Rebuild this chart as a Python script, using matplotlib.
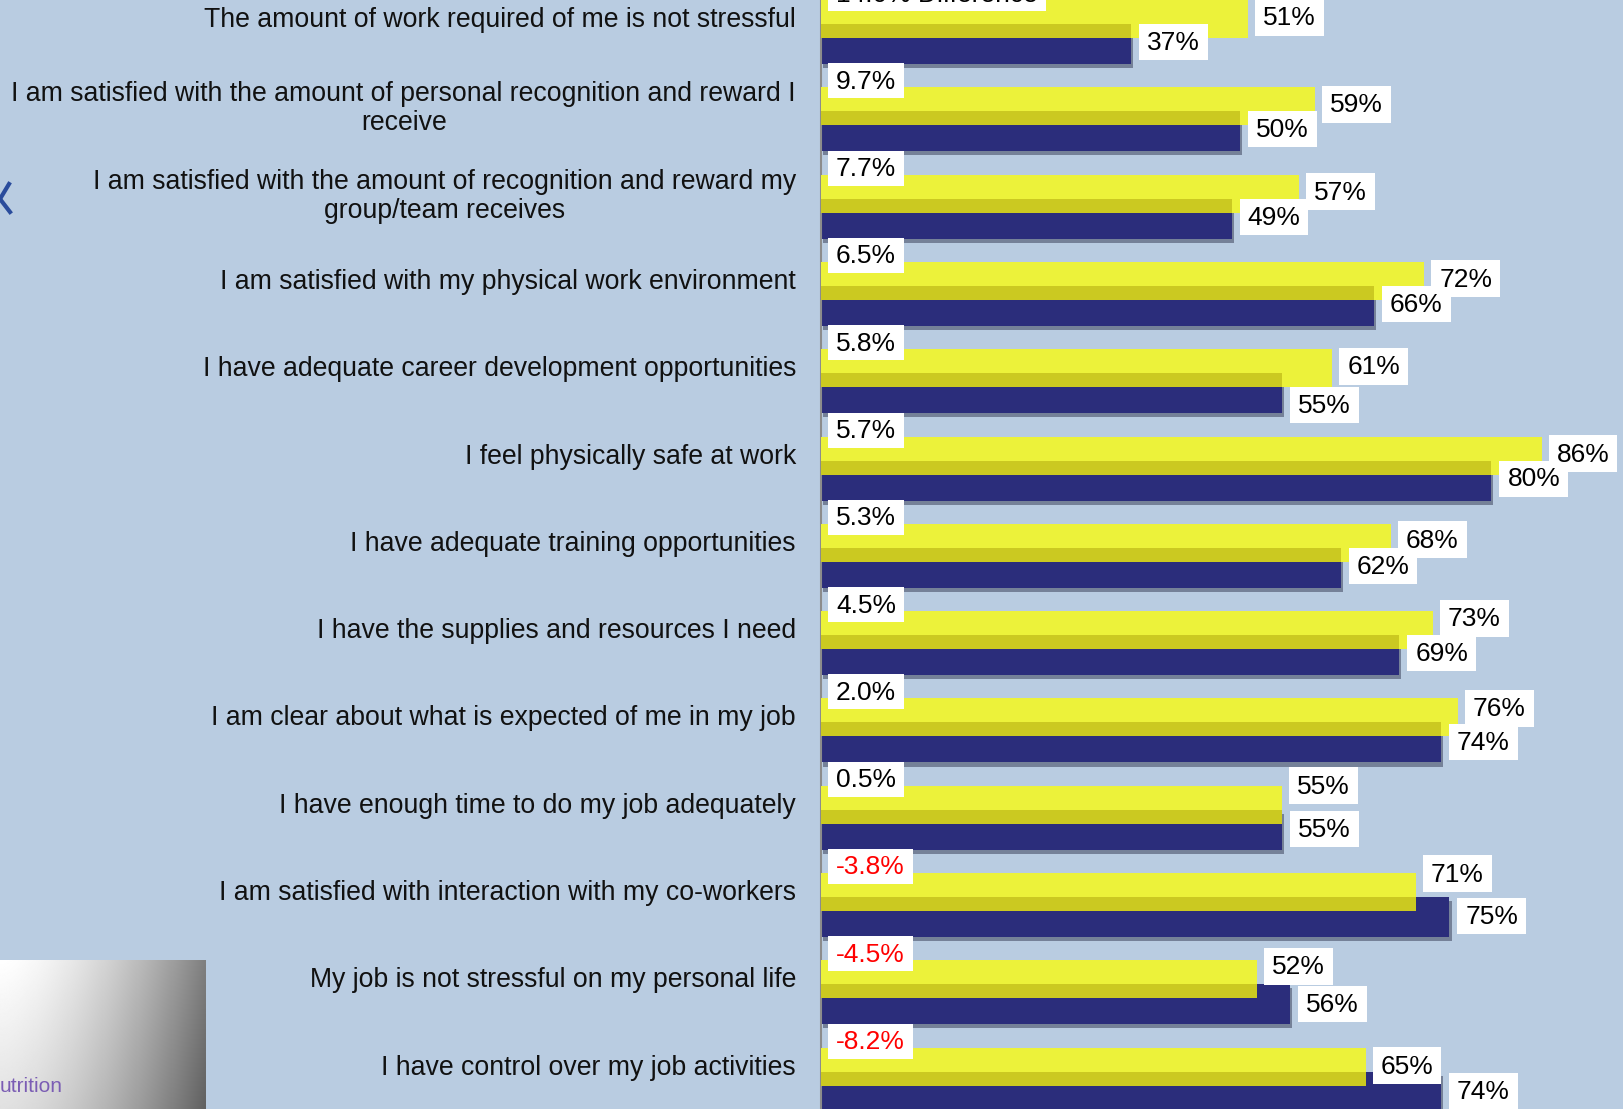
import numpy as np
import matplotlib
matplotlib.use('Agg')
import matplotlib.pyplot as plt
import matplotlib.patheffects as pe
from matplotlib.patches import Rectangle
from matplotlib.transforms import IdentityTransform

plt.rcParams['font.family'] = ['Liberation Sans', 'DejaVu Sans']

categories = [
    'The amount of work required of me is not stressful',
    'I am satisfied with the amount of personal recognition and reward I\nreceive',
    'I am satisfied with the amount of recognition and reward my\ngroup/team receives',
    'I am satisfied with my physical work environment',
    'I have adequate career development opportunities',
    'I feel physically safe at work',
    'I have adequate training opportunities',
    'I have the supplies and resources I need',
    'I am clear about what is expected of me in my job',
    'I have enough time to do my job adequately',
    'I am satisfied with interaction with my co-workers',
    'My job is not stressful on my personal life',
    'I have control over my job activities',
]
yellow_pct = [51, 59, 57, 72, 61, 86, 68, 73, 76, 55, 71, 52, 65]
navy_pct = [37, 50, 49, 66, 55, 80, 62, 69, 74, 55, 75, 56, 74]
diff_pct = [14.0, 9.7, 7.7, 6.5, 5.8, 5.7, 5.3, 4.5, 2.0, 0.5, -3.8, -4.5, -8.2]

# label nudges (pixels, downward) where value boxes would collide
yellow_nudge = [0, 0, 0, 0, 0, 0, -1, -10, -7, -17, -16, -11, 1]
navy_nudge = [0, 0, 0, 0, 14, 0, 0, 0, 2, 1, 1, 2, 1]

BG = '#b9cce1'
YELLOW = '#ecf23a'
OLIVE = '#cbc921'
NAVY = '#2b2d7b'

W, H = 1624, 1109
x0 = 821          # pixel where 0% sits
px_pct = 8.38     # pixels per percent
grp = 87.3        # pixels per question group

fig = plt.figure(figsize=(W / 100, H / 100), dpi=100, facecolor=BG)
ax = fig.add_axes([x0 / W, 0, 1 - x0 / W, 1])
ax.set_facecolor('none')
ax.set_xlim(0, (W - x0) / px_pct)
ax.set_ylim(H / grp, 0)

n = len(categories)
idx = np.arange(n)
lo = np.minimum(yellow_pct, navy_pct)

ax.barh(idx + 44 / grp, navy_pct, height=40 / grp, color=NAVY, zorder=2,
        path_effects=[pe.SimplePatchShadow(offset=(1.5, -3), shadow_rgbFace='#333850', alpha=0.5),
                      pe.Normal()])
ax.barh(idx + 19 / grp, yellow_pct, height=38 / grp, color=YELLOW, zorder=3)
ax.barh(idx + 31 / grp, lo, height=14 / grp, color=OLIVE, zorder=4)

for s in ['top', 'right', 'bottom']:
    ax.spines[s].set_visible(False)
ax.spines['left'].set_color('#8c8c8c')
ax.spines['left'].set_linewidth(1.5)
ax.set_xticks([])
ax.set_yticks(idx + 17 / grp)
ax.set_yticklabels(categories, fontsize=19.2, color='#111111', linespacing=1.15)
ax.tick_params(axis='y', length=0, pad=18)
for t in ax.get_yticklabels():
    t.set_multialignment('center')

boxed = []
for i in range(n):
    label = f'{diff_pct[i]:.1f}%'
    if i == 0:
        label += ' Difference'
    t = ax.annotate(label, xy=(0, i), xytext=(15, 5.5), textcoords='offset pixels',
                    ha='left', va='center', fontsize=19,
                    color='#ff0000' if diff_pct[i] < 0 else 'black', zorder=7)
    boxed.append((t, 35))
    t = ax.annotate(f'{yellow_pct[i]}%', xy=(yellow_pct[i], i + 18 / grp),
                    xytext=(15, -yellow_nudge[i]), textcoords='offset pixels',
                    ha='left', va='center', fontsize=19, color='black', zorder=7)
    boxed.append((t, 37))
    t = ax.annotate(f'{navy_pct[i]}%', xy=(navy_pct[i], i + 43 / grp),
                    xytext=(16, -navy_nudge[i]), textcoords='offset pixels',
                    ha='left', va='center', fontsize=19, color='black', zorder=7)
    boxed.append((t, 36))

# white boxes behind the value labels
fig.canvas.draw()
r = fig.canvas.get_renderer()
for t, bh in boxed:
    bb = t.get_window_extent(r)
    cy = (bb.y0 + bb.y1) / 2 + 1
    ax.add_patch(Rectangle((bb.x0 - 8, cy - bh / 2), bb.width + 16, bh,
                           transform=IdentityTransform(), facecolor='white',
                           edgecolor='none', zorder=6))

# grey gradient panel bottom left
pa = fig.add_axes([0, 0, 206 / W, 149 / H])
gx, gy = np.meshgrid(np.linspace(0, 1, 200), np.linspace(0, 1, 150))
shade = 1 - 0.5 * gx ** 1.6 - 0.12 * gy
pa.imshow(shade, cmap='gray', vmin=0, vmax=1, aspect='auto', extent=(0, 1, 0, 1), origin='upper')
pa.axis('off')
fig.text(0, (H - 1086) / H, 'utrition', fontsize=15, color='#7b5db4', ha='left', va='center')

# piece of a blue logo on the left edge
fig.add_artist(plt.Line2D([9 / W, 0], [1 - 184 / H, 1 - 199 / H], color='#2a4c9c', lw=3))
fig.add_artist(plt.Line2D([0, 10 / W], [1 - 199 / H, 1 - 212 / H], color='#2a4c9c', lw=3))

fig.savefig('out.png', dpi=100, facecolor=BG)
